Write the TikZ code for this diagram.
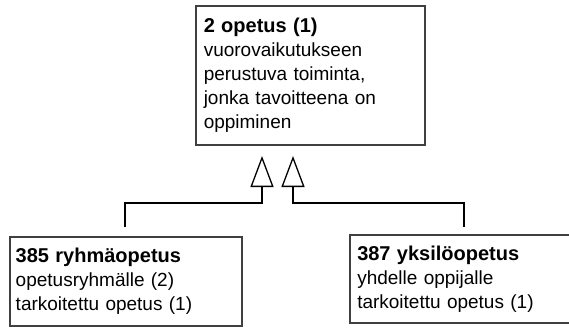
\documentclass[tikz,border=0pt]{standalone}
\usepackage{fontspec}
\setmainfont{Liberation Sans}
\usepackage{tikz}
\usetikzlibrary{arrows.meta}

\begin{document}
\begin{tikzpicture}[x=1pt,y=-1pt,
        kasite/.style={draw=black!75, line width=1.5pt, align=left, anchor=north west,
            inner xsep=8pt, inner ysep=0pt, font=\fontsize{19}{24}\selectfont},
        otsikko/.style={font=\fontsize{20}{24}\selectfont\bfseries},
        yleistys/.style={line width=1.3pt,
            -{Triangle[open,length=31pt,width=23pt,line width=1.3pt]}}]
    \useasboundingbox (0,0) rectangle (569,327);
    % kasitteet
    \node[kasite, text width=213pt, minimum height=139pt] (opetus) at (195,5)
        {{\fontsize{20}{24}\selectfont\bfseries 2 opetus (1)}\\vuorovaikutukseen\\perustuva toiminta,\\jonka tavoitteena on\\oppiminen};
    \node[kasite, inner xsep=6pt, text width=220pt, minimum height=89pt] (ryhma) at (9,236)
        {{\fontsize{20}{24}\selectfont\bfseries 385 ryhmäopetus}\\opetusryhmälle (2)\\tarkoitettu opetus (1)};
    \node[kasite, inner xsep=7.5pt, text width=207pt, minimum height=88pt] (yksilo) at (349,234)
        {{\fontsize{20}{24}\selectfont\bfseries 387 yksilöopetus}\\yhdelle oppijalle\\tarkoitettu opetus (1)};
    % yleistykset
    \coordinate (ryhma-a) at (125,227);
    \coordinate (ryhma-k) at (262,156);
    \coordinate (yksilo-a) at (464,227);
    \coordinate (yksilo-k) at (293,156);
    \draw[yleistys] (ryhma-a) -- ++(0,-24) -| (ryhma-k);
    \draw[yleistys] (yksilo-a) -- ++(0,-24) -| (yksilo-k);
\end{tikzpicture}
\end{document}
